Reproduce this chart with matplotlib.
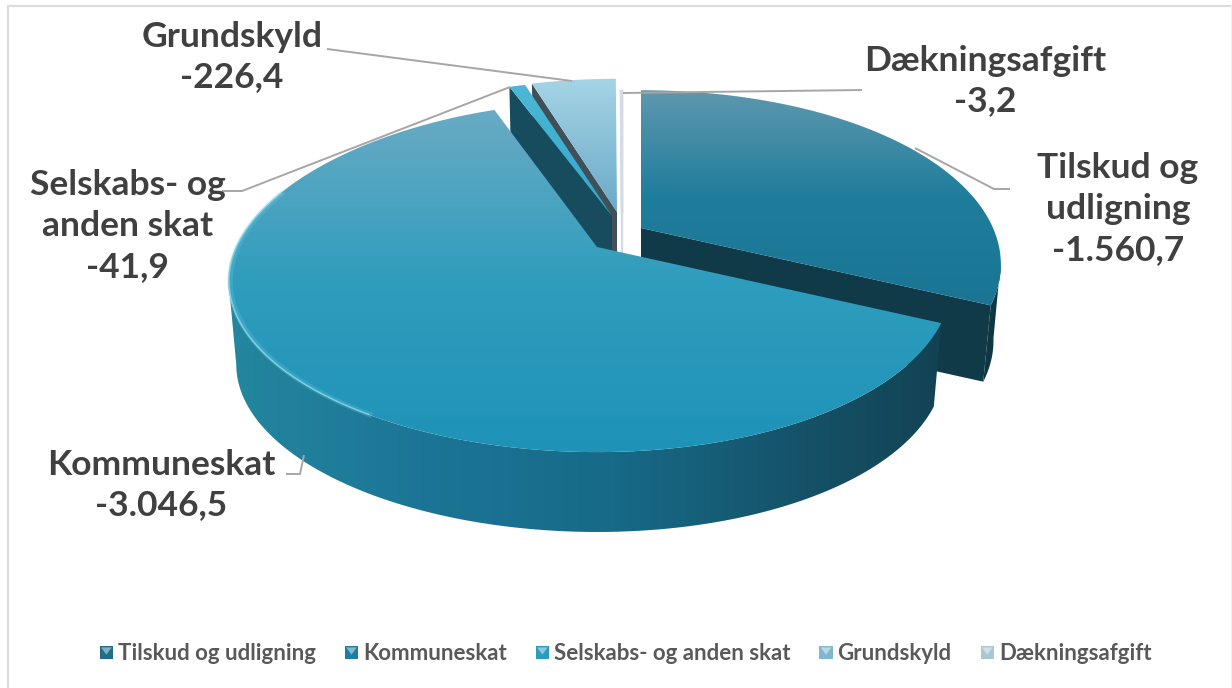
import numpy as np
import matplotlib
matplotlib.use("Agg")
import matplotlib.pyplot as plt
from matplotlib.colors import LinearSegmentedColormap, to_rgb
from matplotlib.legend_handler import HandlerBase
from matplotlib.patches import Polygon, Rectangle, Patch

# ---- data ----
categories = ["Tilskud og udligning", "Kommuneskat", "Selskabs- og anden skat", "Grundskyld", "Dækningsafgift"]
values = [-1560.7, -3046.5, -41.9, -226.4, -3.2]
label_texts = ["Tilskud og\nudligning\n-1.560,7", "Kommuneskat\n-3.046,5", "Selskabs- og\nanden skat\n-41,9",
               "Grundskyld\n-226,4", "Dækningsafgift\n-3,2"]
legend_colors = ["#1f6f8c", "#1d7f9f", "#2a9dbd", "#7fb9d0", "#a9c8d4"]

# ---- layout / style ----
W, H = 1232, 688
apexes = [(641, 228), (597, 247), (612, 216), (617, 212), (622, 213)]
radius_scale = [1.015, 1.0, 1.0, 0.975, 0.88]
back_scale = [1.0, 1.065, 1.0, 1.0, 1.0]
depths = [78, 85, 78, 78, 78]
A, B, P, SKEW = 354.0, 163.6, 0.2023, 0.02
BOTTOM_SCALE = 0.98
START = 90.0

top_grad = [["#5f98ae", "#1f7d9c", "#1a7594"], ["#6aaac4", "#2f9dbd", "#1e93b8"], ["#4db8d6", "#2fa8cb"],
            ["#a6d4e6", "#6aaac8"], ["#ffffff", "#ffffff"]]
wall_grad = [["#0e3541", "#0f3a48"], ["#24869f", "#1c7596", "#176a88", "#155268", "#123c4c"],
             ["#164a5c", "#164a5c"], ["#3c4f57", "#3c4f57"], ["#dfe6ee", "#dfe6ee"]]
cut_colors = ["#103a48", None, "#174c5f", "#3f5058", "#d5dbe6"]
text_color = "#404040"
leader_color = "#a6a6a6"

fig = plt.figure(figsize=(W / 100, H / 100), dpi=100)
ax = fig.add_axes([0, 0, 1, 1])
ax.set_xlim(0, W)
ax.set_ylim(H, 0)
ax.axis("off")
ax.plot([8, 8, W - 1], [H, 6, 6], color="#dcdcdc", lw=1.6, zorder=1)
ax.plot([W - 1, W - 1], [6, H], color="#f0f0f0", lw=1.0, zorder=1)


def project(theta, i, drop=False):
    t = np.radians(theta)
    rs = radius_scale[i] * (BOTTOM_SCALE if drop else 1.0)
    u, v = rs * np.cos(t), rs * np.sin(t)
    w = 1 + P * v
    x = apexes[i][0] + A * u * (1 - SKEW * u) / w
    y = apexes[i][1] - B * v * (1 + (back_scale[i] - 1) * np.maximum(v, 0)) / w + (depths[i] if drop else 0)
    return np.column_stack([np.atleast_1d(x), np.atleast_1d(y)])


def gradient_fill(pts, colors, zorder, horizontal=False, ext=None):
    pts = np.asarray(pts)
    x0, x1 = (pts[:, 0].min(), pts[:, 0].max()) if ext is None else ext
    y0, y1 = pts[:, 1].min(), pts[:, 1].max()
    cmap = LinearSegmentedColormap.from_list("g", colors)
    grad = np.linspace(0, 1, 256)
    grad = grad[None, :] if horizontal else grad[:, None]
    im = ax.imshow(grad, cmap=cmap, extent=(x0, x1, y1, y0), aspect="auto", zorder=zorder,
                   interpolation="bilinear", vmin=0, vmax=1)
    im.set_clip_path(Polygon(pts, closed=True, transform=ax.transData))
    ax.set_xlim(0, W)
    ax.set_ylim(H, 0)


shares = np.abs(values) / np.abs(values).sum()
ends = START - 360 * np.cumsum(shares)
starts = np.r_[START, ends[:-1]]

draw_order = [3, 2, 4, 0, 1]
z = 2
for i in draw_order:
    th = np.linspace(starts[i], ends[i], 400)
    top_arc = project(th, i)
    apex_top = np.array([apexes[i]], float)
    apex_bot = apex_top + [0, depths[i]]
    # outer wall: only the part of the rim that faces the viewer
    if i in (0, 1):
        th_wall = th[np.sin(np.radians(th)) < -0.19]
        wall = np.vstack([project(th_wall, i), project(th_wall, i, True)[::-1]])
        gradient_fill(wall, wall_grad[i], z, horizontal=True, ext=(228, 1000) if i == 1 else None)
    z += 1
    # visible cut faces
    if cut_colors[i]:
        ang = starts[i] if i in (2, 3) else ends[i]
        face = np.vstack([apex_top, project(ang, i), project(ang, i, True), apex_bot])
        ax.add_patch(Polygon(face, closed=True, fc=cut_colors[i],
                             ec=cut_colors[i] if i == 4 else "none", lw=1.6, zorder=z))
    z += 1
    # top surface
    poly = np.vstack([apex_top, top_arc])
    if i == 4:
        ax.add_patch(Polygon(poly, closed=True, fc="white", ec="#d5dbe6", lw=1.8, zorder=z))
    else:
        gradient_fill(poly, top_grad[i], z)
    z += 1

# soft light rim on the left of the main slice
rim = project(np.linspace(160, 238, 100), 1)
ax.plot(rim[:, 0] + 1.5, rim[:, 1], color="#7fd3e6", lw=4, alpha=0.22, zorder=z)
ax.plot(rim[:, 0] + 0.5, rim[:, 1], color="#8fdcec", lw=1.2, alpha=0.7, zorder=z)
z += 1

# leader lines
leaders = [
    ([327, 572], [49, 81]),
    ([222, 242, 510], [191, 191, 87]),
    ([862, 623], [90, 93]),
    ([1010, 994, 915], [189, 189, 148]),
    ([286, 300, 304], [474, 474, 455]),
]
for xs, ys in leaders:
    ax.plot(xs, ys, color=leader_color, lw=1.4, zorder=z, solid_capstyle="butt")

# data labels
label_pos = [(1118, 209), (161, 485), (128, 226), (232, 57), (985, 81)]
for txt, (x, y) in zip(label_texts, label_pos):
    ax.text(x, y, txt, ha="center", va="center", fontfamily="Lato", fontweight="bold",
            fontsize=25.5, color=text_color, linespacing=1.33, zorder=z + 1)


# legend with bevelled square keys
class BevelHandler(HandlerBase):
    def create_artists(self, legend, orig, xd, yd, width, height, fontsize, trans):
        c = np.array(to_rgb(orig.get_facecolor()))
        light = c + (1 - c) * 0.45
        s = width
        x0, y0 = -xd, -yd + (height - s) / 2
        base = Rectangle((x0, y0), s, s, fc=c, ec="none", transform=trans)
        tri = Polygon([(x0 + 1, y0 + s - 1), (x0 + s - 1, y0 + s - 1), (x0 + s / 2, y0 + s * 0.35)],
                      closed=True, fc=light, ec="none", transform=trans)
        return [base, tri]


handles = [Patch(fc=c, label=n) for c, n in zip(legend_colors, categories)]
ax.legend(handles=handles, ncol=5, loc="center", bbox_to_anchor=(625.5, 654), bbox_transform=ax.transData,
          handler_map={Patch: BevelHandler()}, frameon=False,
          prop={"family": "Lato", "weight": "bold", "size": 16}, labelcolor="#595959",
          handlelength=0.6, handleheight=0.6, handletextpad=0.22, columnspacing=1.3, borderpad=0)

fig.savefig("out.png", dpi=100, facecolor="white")
